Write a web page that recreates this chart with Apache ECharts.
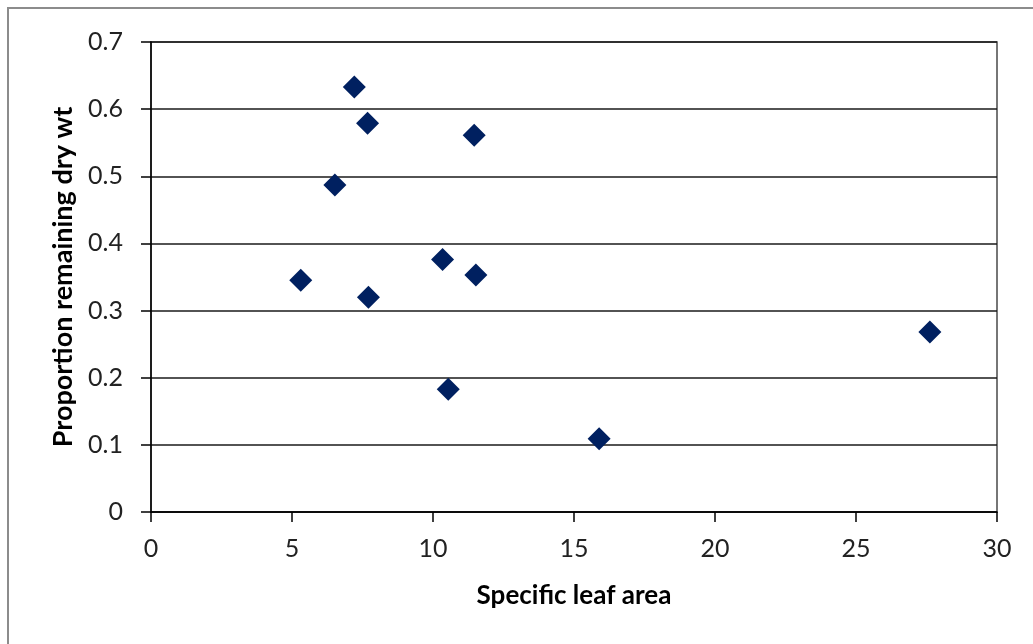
<!DOCTYPE html>
<html>
<head>
<meta charset="utf-8">
<style>
  html, body { margin: 0; padding: 0; background: #fff; }
  #chart { width: 1033px; height: 644px; }
</style>
<script src="https://cdn.jsdelivr.net/npm/echarts@6/dist/echarts.min.js"></script>
</head>
<body>
<div id="chart"></div>
<script>
// Specific leaf area vs. proportion of dry weight remaining
const specificLeafArea = [7.21, 7.68, 11.46, 6.52, 5.31, 7.71, 10.34, 11.52, 10.54, 15.89, 27.62];
const proportionRemaining = [0.633, 0.579, 0.561, 0.487, 0.345, 0.320, 0.376, 0.353, 0.183, 0.109, 0.268];

const xTitle = 'Specific leaf area';
const yTitle = 'Proportion remaining dry wt';

const points = specificLeafArea.map((x, i) => [x, proportionRemaining[i]]);

const FONT = 'Lato, "Open Sans", sans-serif';

const chart = echarts.init(document.getElementById('chart'), null, { renderer: 'canvas' });
chart.setOption({
  animation: false,
  backgroundColor: '#fff',
  graphic: [{
    type: 'rect',
    shape: { x: 8, y: 8, width: 1100, height: 700 },
    style: { fill: 'none', stroke: '#8c8c8c', lineWidth: 2 },
    silent: true
  }],
  grid: {
    left: 151, top: 42, right: 36, bottom: 132,
    show: true, borderColor: '#4a4a4a', borderWidth: 1.5, backgroundColor: 'transparent'
  },
  xAxis: {
    type: 'value', min: 0, max: 30, interval: 5,
    name: xTitle, nameLocation: 'middle', nameGap: 71,
    nameTextStyle: { fontFamily: FONT, fontSize: 26, fontWeight: 'bold', color: '#000' },
    axisLine: { show: true, onZero: false, lineStyle: { color: '#000', width: 1.5 } },
    axisTick: { show: true, inside: false, length: 10, lineStyle: { color: '#000', width: 1.5 } },
    axisLabel: { fontFamily: FONT, fontSize: 25, color: '#222', margin: 24 },
    splitLine: { show: false }
  },
  yAxis: {
    type: 'value', min: 0, max: 0.7, interval: 0.1,
    name: yTitle, nameLocation: 'middle', nameGap: 64, nameRotate: 90,
    nameTextStyle: { fontFamily: FONT, fontSize: 27, fontWeight: 'bold', color: '#000' },
    axisLine: { show: true, onZero: false, lineStyle: { color: '#000', width: 1.5 } },
    axisTick: { show: true, inside: false, length: 10, lineStyle: { color: '#000', width: 1.5 } },
    axisLabel: { fontFamily: FONT, fontSize: 25, color: '#222', margin: 28,
      formatter: v => String(Math.round(v * 10) / 10) },
    splitLine: { show: true, lineStyle: { color: '#1a1a1a', width: 1.5 } }
  },
  series: [{
    type: 'scatter',
    data: points,
    symbol: 'diamond',
    symbolSize: [23, 23],
    itemStyle: { color: '#002060', opacity: 1 }
  }]
});
</script>
</body>
</html>
